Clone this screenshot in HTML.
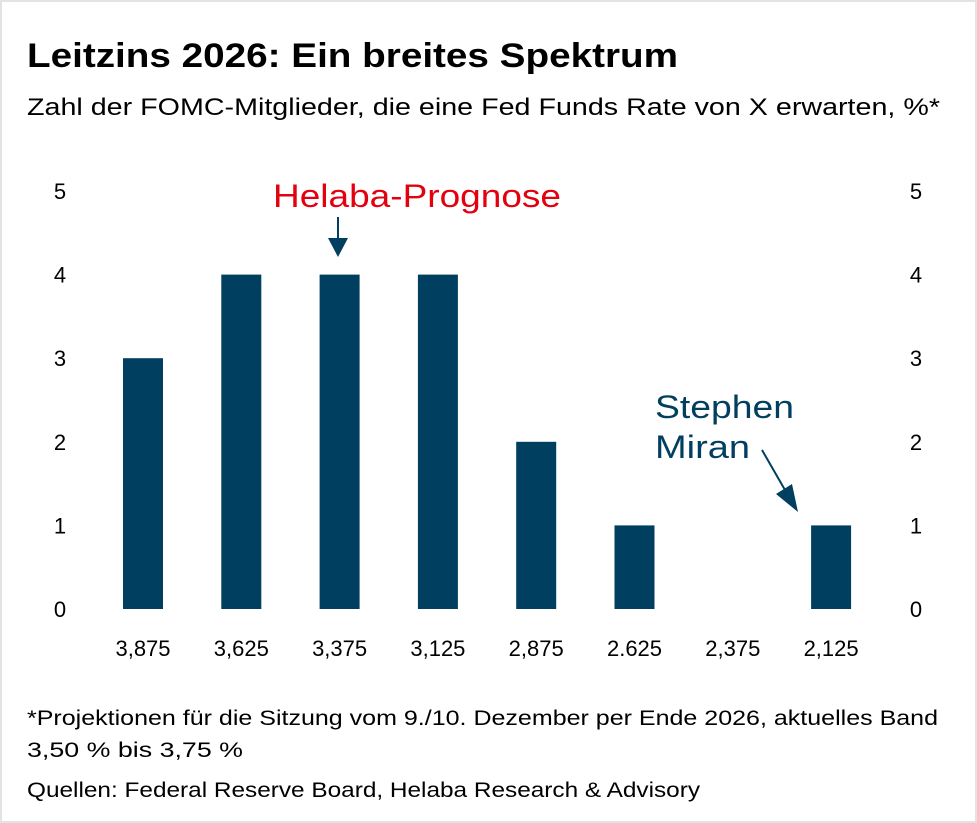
<!DOCTYPE html>
<html><head><meta charset="utf-8"><style>
html,body{margin:0;padding:0;background:#fff}
svg{display:block;font-family:"Liberation Sans",sans-serif}
</style></head><body>
<svg id="chart" width="977" height="823" viewBox="0 0 977 823">
<rect x="1" y="1" width="975" height="821" fill="#fff" stroke="#e3e3e3" stroke-width="2"/>
<text x="27" y="67" font-size="34" font-weight="bold" fill="#000" textLength="651" lengthAdjust="spacingAndGlyphs">Leitzins 2026: Ein breites Spektrum</text>
<text x="27" y="115" font-size="24" fill="#000" textLength="913" lengthAdjust="spacingAndGlyphs">Zahl der FOMC-Mitglieder, die eine Fed Funds Rate von X erwarten, %*</text>
<g id="yl"></g><g id="yr"></g><g id="bars"></g><g id="xl"></g>
<text x="273" y="207" font-size="32" fill="#e3000f" textLength="288" lengthAdjust="spacingAndGlyphs">Helaba-Prognose</text>
<g><line x1="338" y1="217" x2="338" y2="240" stroke="#003f5f" stroke-width="2"/><polygon points="328,238 348,238 338,257" fill="#003f5f"/></g>
<text x="655" y="418" font-size="32" fill="#003f5f" textLength="139" lengthAdjust="spacingAndGlyphs">Stephen</text>
<text x="655" y="458" font-size="32" fill="#003f5f" textLength="95" lengthAdjust="spacingAndGlyphs">Miran</text>
<g><line x1="762" y1="450" x2="785" y2="490" stroke="#003f5f" stroke-width="2"/><polygon points="776,494 792,484 798,512" fill="#003f5f"/></g>
<text x="27" y="725" font-size="21" fill="#000" textLength="911" lengthAdjust="spacingAndGlyphs">*Projektionen für die Sitzung vom 9./10. Dezember per Ende 2026, aktuelles Band</text>
<text x="27" y="757" font-size="21" fill="#000" textLength="216" lengthAdjust="spacingAndGlyphs">3,50 % bis 3,75 %</text>
<text x="27" y="797" font-size="21" fill="#000" textLength="673" lengthAdjust="spacingAndGlyphs">Quellen: Federal Reserve Board, Helaba Research &amp; Advisory</text>
</svg>
<script>
const categories=["3,875","3,625","3,375","3,125","2,875","2.625","2,375","2,125"];
const values=[3,4,4,4,2,1,0,1];
const yTicks=[0,1,2,3,4,5];
const NS="http://www.w3.org/2000/svg";
const y0=609,yStep=83.6,x0=143,xStep=98.3,bw=40;
const ys=v=>y0-v*yStep, xs=i=>x0+i*xStep;
function mk(tag,attrs,parent,txt){const e=document.createElementNS(NS,tag);for(const k in attrs)e.setAttribute(k,attrs[k]);if(txt!==undefined)e.textContent=txt;document.getElementById(parent).appendChild(e);return e;}
yTicks.forEach(t=>{
 const a=mk("text",{x:60,y:ys(t)+8,"font-size":22,"text-anchor":"middle",fill:"#000"},"yl",String(t));
 
 
 const b=mk("text",{x:916,y:ys(t)+8,"font-size":22,"text-anchor":"middle",fill:"#000"},"yr",String(t));
 
 
});
categories.forEach((c,i)=>{
 const v=values[i];
 if(v>0){const r=mk("rect",{x:xs(i)-bw/2,y:ys(v),width:bw,height:y0-ys(v),fill:"#003f5f"},"bars");
 
 }
 const t=mk("text",{x:xs(i),y:656,"font-size":22,"text-anchor":"middle",fill:"#000"},"xl",c);
 
 
});
</script>
</body></html>
